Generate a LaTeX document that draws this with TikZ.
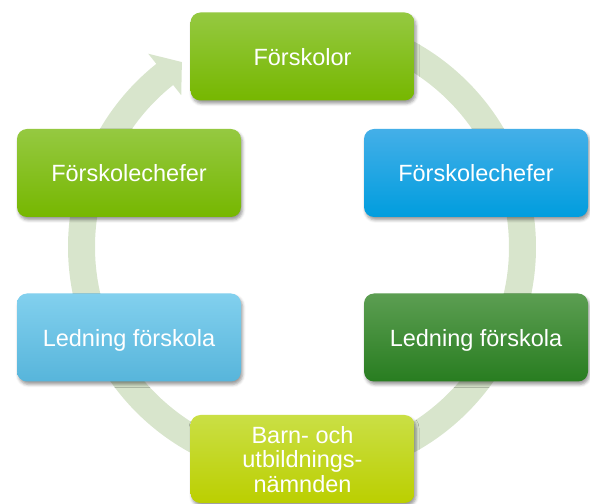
\documentclass[tikz,border=0pt]{standalone}
\usepackage{fontspec}
\setmainfont{Liberation Sans}
\usetikzlibrary{shadows.blur}
\definecolor{ringc}{HTML}{D8E5CC}
\definecolor{limeA}{HTML}{95C941}
\definecolor{limeB}{HTML}{76B700}
\definecolor{blueA}{HTML}{44AFE8}
\definecolor{blueB}{HTML}{009DDE}
\definecolor{skyA}{HTML}{82D0EE}
\definecolor{skyB}{HTML}{57B5DB}
\definecolor{darkA}{HTML}{5C9E52}
\definecolor{darkB}{HTML}{287D20}
\definecolor{yelA}{HTML}{CADF45}
\definecolor{yelB}{HTML}{BBCF00}
\tikzset{box/.style 2 args={rounded corners=10pt, minimum width=224pt, minimum height=88pt,
  inner sep=0pt, top color=#1, bottom color=#2, text=white, align=center, text depth=0pt,
  font=\fontsize{23.5}{24.5}\selectfont,
  blur shadow={shadow xshift=1.5pt, shadow yshift=-3pt, shadow opacity=40, shadow blur radius=3pt}}}
\newcommand{\stage}[4]{node[box={#1}{#2}] (#3) {#4}}

\begin{document}
\begin{tikzpicture}[x=1pt,y=1pt]
  \useasboundingbox (0,0) rectangle (590,504);
  \coordinate (c) at (302,257);
  \draw[ringc, line width=27pt] ([shift={(95:220.5)}]c) arc (95:-232:220.5);
  \fill[ringc] ([shift={(128.5:247)}]c) -- ([shift={(123:220.5)}]c) -- ([shift={(128.5:194)}]c) -- cycle;
  \path (302.5,447.5) \stage{limeA}{limeB}{forskolor}{Förskolor}
        (476,331) \stage{blueA}{blueB}{chefR}{Förskolechefer}
        (476,166.5) \stage{darkA}{darkB}{ledR}{Ledning förskola}
        (302.5,45) \stage{yelA}{yelB}{namnd}{Barn- och\\utbildnings-\\nämnden}
        (129,166.5) \stage{skyA}{skyB}{ledL}{Ledning förskola}
        (129,331) \stage{limeA}{limeB}{chefL}{Förskolechefer};
\end{tikzpicture}
\end{document}
